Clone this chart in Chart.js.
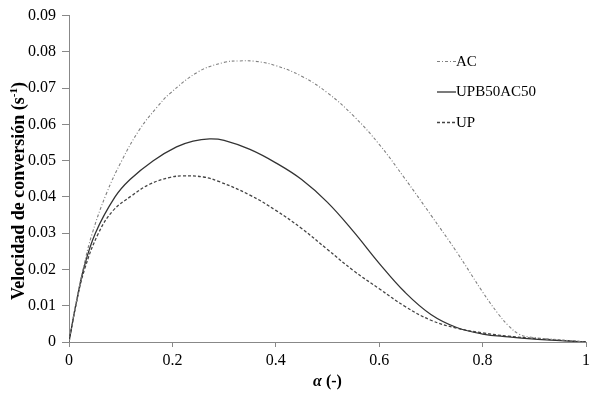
<!DOCTYPE html>
<html><head><meta charset="utf-8">
<script src="https://cdn.jsdelivr.net/npm/chart.js@4/dist/chart.umd.min.js"></script>
<style>html,body{margin:0;padding:0;background:#fff}</style>
</head><body>
<canvas id="c" width="600" height="399"></canvas>
<script>
const seriesNames = ['AC', 'UPB50AC50', 'UP'];
const acAlpha = [0, 0.013, 0.028, 0.044, 0.072, 0.102, 0.137, 0.17, 0.195, 0.25, 0.30, 0.33, 0.36, 0.40, 0.45, 0.50, 0.55, 0.60, 0.65, 0.70, 0.75, 0.80, 0.83, 0.85, 0.87, 0.89, 0.95, 1];
const acRate  = [0, 0.0102, 0.0205, 0.0295, 0.0408, 0.050, 0.0587, 0.0647, 0.0685, 0.0745, 0.0771, 0.0775, 0.0774, 0.0762, 0.0733, 0.0687, 0.0624, 0.0545, 0.0450, 0.0350, 0.0248, 0.0138, 0.0078, 0.0045, 0.0022, 0.0014, 0.0006, 0];
const blendAlpha = [0, 0.013, 0.028, 0.051, 0.089, 0.118, 0.163, 0.208, 0.24, 0.272, 0.30, 0.35, 0.40, 0.45, 0.50, 0.55, 0.60, 0.65, 0.70, 0.75, 0.80, 0.85, 0.90, 0.95, 1];
const blendRate  = [0, 0.010, 0.020, 0.030, 0.040, 0.0448, 0.0500, 0.0538, 0.0554, 0.0560, 0.0556, 0.0531, 0.0494, 0.0448, 0.0385, 0.0305, 0.0217, 0.0137, 0.0076, 0.0040, 0.0022, 0.0014, 0.0008, 0.0004, 0];
const upAlpha = [0, 0.013, 0.030, 0.057, 0.085, 0.121, 0.156, 0.196, 0.22, 0.26, 0.291, 0.35, 0.40, 0.45, 0.50, 0.55, 0.60, 0.65, 0.70, 0.75, 0.80, 0.85, 0.90, 0.95, 1];
const upRate  = [0, 0.010, 0.020, 0.030, 0.0362, 0.0403, 0.0435, 0.0454, 0.0458, 0.0455, 0.0442, 0.0405, 0.0363, 0.0313, 0.0255, 0.0197, 0.0147, 0.0098, 0.0060, 0.0038, 0.0025, 0.0016, 0.0010, 0.0005, 0];
const xTickLabels = ['0', '0.2', '0.4', '0.6', '0.8', '1'];
const yTickLabels = ['0', '0.01', '0.02', '0.03', '0.04', '0.05', '0.06', '0.07', '0.08', '0.09'];

const toPts = (xs, ys) => xs.map((x, i) => ({x: x, y: ys[i]}));
const FONT = "'Liberation Serif', 'Times New Roman', serif";

const styles = [
  {color: '#808080', dash: [3, 2, 1, 2], width: 1.1},
  {color: '#333333', dash: [], width: 1.3},
  {color: '#444444', dash: [3, 2], width: 1.3}
];
const dataSets = [toPts(acAlpha, acRate), toPts(blendAlpha, blendRate), toPts(upAlpha, upRate)];

const overlay = {
  id: 'overlay',
  afterDraw(chart) {
    const ctx = chart.ctx;
    const area = chart.chartArea;
    // legend
    ctx.save();
    chart.data.datasets.forEach((ds, i) => {
      const y = 61 + i * 30.5;
      ctx.beginPath();
      ctx.setLineDash(ds.borderDash || []);
      ctx.strokeStyle = ds.borderColor;
      ctx.lineWidth = ds.borderWidth;
      ctx.moveTo(437, y + 0.5);
      ctx.lineTo(456, y + 0.5);
      ctx.stroke();
      ctx.setLineDash([]);
      ctx.fillStyle = '#000';
      ctx.font = '15px ' + FONT;
      ctx.textBaseline = 'middle';
      ctx.textAlign = 'left';
      ctx.fillText(ds.label, 456, y + 1);
    });
    ctx.restore();
    // y title
    ctx.save();
    ctx.translate(19, 191);
    ctx.rotate(-Math.PI / 2);
    ctx.fillStyle = '#000';
    ctx.textBaseline = 'middle';
    ctx.textAlign = 'left';
    const main = 'Velocidad de conversión (s';
    const sup = '-1';
    const end = ')';
    const fMain = 'bold 18px ' + FONT, fSup = 'bold 11px ' + FONT;
    ctx.font = fMain; const w1 = ctx.measureText(main).width; const w3 = ctx.measureText(end).width;
    ctx.font = fSup; const w2 = ctx.measureText(sup).width;
    let x0 = -(w1 + w2 + w3) / 2;
    ctx.font = fMain; ctx.fillText(main, x0, 0);
    ctx.font = fSup; ctx.fillText(sup, x0 + w1, -5);
    ctx.font = fMain; ctx.fillText(end, x0 + w1 + w2, 0);
    ctx.restore();
    // x title
    ctx.save();
    ctx.fillStyle = '#000';
    ctx.textBaseline = 'middle';
    ctx.textAlign = 'left';
    const a = 'α', rest = ' (-)';
    const fa = 'italic bold 16px ' + FONT, fr = 'bold 16px ' + FONT;
    ctx.font = fa; const wa = ctx.measureText(a).width;
    ctx.font = fr; const wr = ctx.measureText(rest).width;
    const cx = (area.left + area.right) / 2;
    let xs = cx - (wa + wr) / 2;
    ctx.font = fa; ctx.fillText(a, xs, 382);
    ctx.font = fr; ctx.fillText(rest, xs + wa, 382);
    ctx.restore();
  }
};

new Chart(document.getElementById('c'), {
  type: 'line',
  data: {
    datasets: dataSets.map((d, i) => ({
      label: seriesNames[i],
      data: d,
      borderColor: styles[i].color,
      borderDash: styles[i].dash,
      borderWidth: styles[i].width,
      pointRadius: 0,
      fill: false,
      tension: 0.4
    }))
  },
  options: {
    responsive: false,
    animation: false,
    devicePixelRatio: 1,
    layout: {padding: {left: 0, top: 12, right: 14, bottom: 0}},
    plugins: {legend: {display: false}, tooltip: {enabled: false}},
    scales: {
      x: {
        type: 'linear', min: 0, max: 1,
        afterFit(s) { s.height = 57; },
        ticks: {stepSize: 0.2, color: '#000', font: {family: FONT, size: 16}, padding: 4, maxRotation: 0,
          callback: (v, i) => xTickLabels[i]},
        grid: {drawOnChartArea: false, drawTicks: true, tickLength: 5, color: '#888'},
        border: {display: true, color: '#888', width: 1}
      },
      y: {
        type: 'linear', min: 0, max: 0.09,
        afterFit(s) { s.width = 69; },
        ticks: {stepSize: 0.01, color: '#000', font: {family: FONT, size: 16}, padding: 6,
          callback: (v, i) => yTickLabels[i]},
        grid: {drawOnChartArea: false, drawTicks: true, tickLength: 7, color: '#888'},
        border: {display: true, color: '#888', width: 1}
      }
    }
  },
  plugins: [overlay]
});
</script>
</body></html>
